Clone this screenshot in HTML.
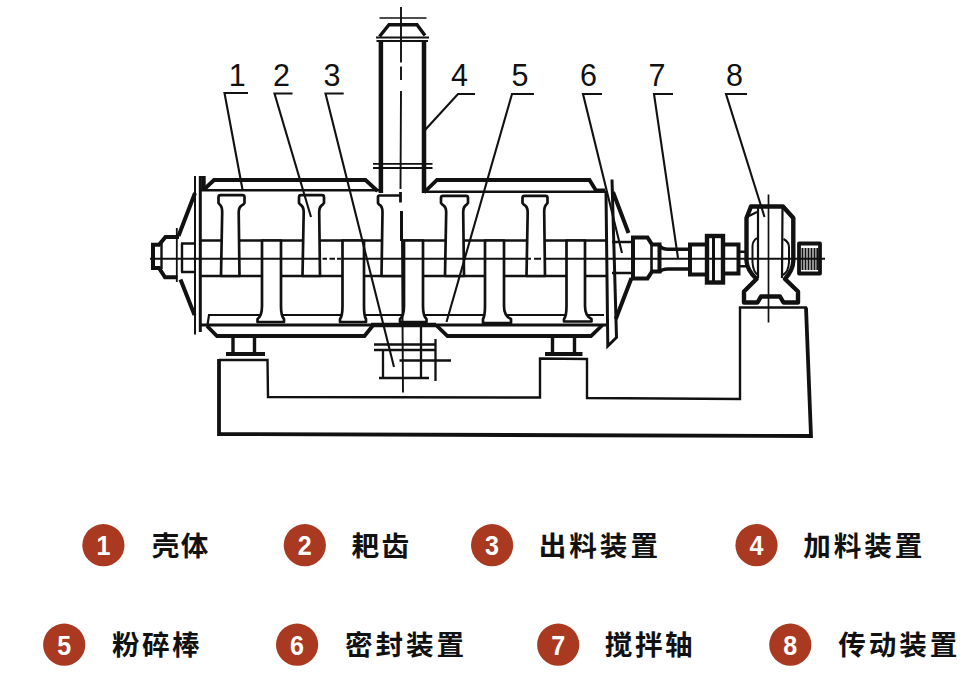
<!DOCTYPE html>
<html lang="zh">
<head>
<meta charset="utf-8">
<title>Rake dryer structure diagram</title>
<style>
html,body{margin:0;padding:0;background:#fff;}
body{width:976px;height:689px;overflow:hidden;font-family:"Liberation Sans",sans-serif;}
svg{display:block;position:absolute;left:0;top:0;}
.lt{font-family:"Liberation Sans","Noto Sans CJK SC",sans-serif;font-weight:700;font-size:27.6px;fill:#111;stroke:none;}
</style>
</head>
<body>
<svg width="976" height="689" viewBox="0 0 976 689">
<rect width="976" height="689" fill="#fff"/>
<!-- ===== foundation ===== -->
<g fill="none" stroke="#111" stroke-linejoin="miter">
  <polyline stroke-width="3.8" points="219,359 219,434 811,436 806,307.5"/>
  <polyline stroke-width="2.4" points="219,360 267.5,360 268,397 540,397.5 540,358.5 587,359 587,398 740,399 740,307.5 807,307.5"/>
</g>

<!-- ===== legs ===== -->
<g fill="none" stroke="#111" stroke-width="3.4">
  <path d="M233,337V353M254.5,337V353M552.5,337V353M574.5,337V353"/>
  <path stroke-width="4" d="M226,354H265M545,354H582.5"/>
</g>

<!-- ===== discharge device (3) ===== -->
<g fill="none" stroke="#111" stroke-width="2.3">
  <path d="M374,344.5H436M374,350H436M383,350V378M421,326V378M435.5,339V381M399.5,360.5H451M379,378H429"/>
</g>

<!-- ===== feed pipe (4) ===== -->
<g fill="none" stroke="#111">
  <path stroke-width="1.5" d="M379.5,18H426.5"/>
  <polyline stroke-width="3.4" points="379.500,36.500 389,24.800 417,24.800 425,35.500"/>
  <path stroke-width="1.8" d="M376,37.5H429M376.5,41H428M373,163.800H432.500M373,168H432.500"/>
  <path stroke-width="4.5" d="M380.900,41V193M424,41V193"/>
</g>

<!-- ===== shell ===== -->
<g fill="none" stroke="#111" stroke-linejoin="miter">
  <!-- left end plate -->
  <path stroke-width="2" d="M195,176V334.5"/>
  <path stroke-width="3" d="M200.3,176V332"/>
  <path stroke-width="4.4" d="M203.500,176V189"/>
  <!-- top jackets -->
  <polyline stroke-width="3.8" points="204,189.500 214,180 365.500,180 377.500,191"/>
  <path stroke-width="2.4" d="M200.500,190.300H380"/>
  <polyline stroke-width="3.8" points="424,192.500 437,180 589.500,180 596,190.500 605,190.500"/>
  <path stroke-width="2.4" d="M424,191.800H606"/>
  <!-- bottom -->
  <path stroke-width="2.2" d="M207.500,325L209,315H604"/>
  <path stroke-width="2.8" d="M200.500,325H606"/>
  <polyline stroke-width="3.8" points="207,326 217,336 364.500,336 372.500,326"/>
  <path stroke-width="4.6" d="M371,325H436"/>
  <polyline stroke-width="3.8" points="436,325 447.500,336 591,336 602.500,325"/>
  <!-- shaft -->
  <path stroke-width="2.5" d="M200.500,240.500H606M200.500,276H606"/>
  <!-- right end plate -->
  <polyline stroke-width="3" points="606,192 607.800,346 616.500,337.500 612,179.500"/>
  <!-- left cone -->
  <path stroke-width="4" d="M195,193L178.500,236M180.500,279.500L194.500,315"/>
  <!-- right cone -->
  <path stroke-width="4" d="M613,192L628.500,233M631.500,278L615.800,319"/>
  <path stroke-width="2.4" d="M612,242H633M612,273H633"/>
</g>

<!-- ===== rake teeth ===== -->
<g fill="#fff" stroke="#111" stroke-width="2.7" stroke-linejoin="round">
  <!-- upper teeth -->
  <path d="M221.0,276.0L222.2,212Q222.2,206.500 219.7,204.500L218.5,203V197.2Q218.5,195.2 220.5,195.2H242.5Q244.5,195.2 244.5,197.2V203L243.3,204.500Q238.7,206.500 238.7,212L239.5,276.0Z"/>
  <path d="M302.5,276.0L303.7,212Q303.7,206.500 300.2,204.500L299.0,203V197.2Q299.0,195.2 301.0,195.2H322.0Q324.0,195.2 324.0,197.2V203L322.8,204.500Q319.2,206.500 319.2,212L320.0,276.0Z"/>
  <path d="M401.500,276H381.500L382.500,212Q382.500,206 379,204.500L378,203V197Q378,195.500 379.500,195.500H400.500"/>
  <path d="M445.0,276.0L446.2,212Q446.2,206.500 442.2,204.500L441.0,203V197.8Q441.0,195.8 443.0,195.8H466.0Q468.0,195.8 468.0,197.8V203L466.8,204.500Q463.2,206.500 463.2,212L464.0,276.0Z"/>
  <path d="M526.5,276.0L527.7,212Q527.7,206.500 523.7,204.500L522.5,203V197.8Q522.5,195.8 524.5,195.8H545.5Q547.5,195.8 547.5,197.8V203L546.3,204.500Q544.2,206.500 544.2,212L545.0,276.0Z"/>
  <!-- lower teeth -->
  <path d="M262,240.500V306Q262,316 257.500,319V322H284V319Q281,316 281,306V240.500Z"/>
  <path d="M342.500,240.500V306Q342.500,316 340,319V322H366V319Q364,316 364,306V240.500Z"/>
  <path d="M404,240.500V306Q404,316 400,319V322H426.500V319Q423,316 423,306V240.500Z"/>
  <path d="M485,240.500V306Q485,316 483,319V323H511V319Q504,316 504,306V240.500Z"/>
  <path d="M566.500,240.500V306Q566.500,316 564,319V321.500H591.500V319Q585,316 585,306V240.500Z"/>
</g>
<path fill="none" stroke="#111" stroke-width="3" d="M401.500,211V241"/>

<!-- ===== left bearing ===== -->
<g fill="none" stroke="#111" stroke-linejoin="miter">
  <path stroke-width="1.8" d="M176.800,228V282"/>
  <polyline stroke-width="4" points="179,237 165.500,237 159,244.800 153,244.800 153,268 159,268 165,277.300 177.500,277.300"/>
  <path stroke-width="2.4" d="M161.500,243V269M181,243.500H195M181,272H195M182,243.500V272"/>
</g>

<!-- ===== stuffing box / shaft (7) / coupling ===== -->
<g fill="#fff" stroke="#111" stroke-width="4" stroke-linejoin="miter">
  <path d="M633,237.500H647.500L652,244.500H659.500V271.500H652L647.500,278.500H633Z"/>
  <path stroke-width="2.6" fill="none" d="M651.500,245V271"/>
  <path stroke-width="3.4" fill="none" d="M659.500,245.500Q662,249.300 668,249.300H690M659.500,272Q662,269 668,269H690"/>
  <rect x="690" y="244.500" width="17" height="30"/>
  <rect x="723" y="244.500" width="15.500" height="29"/>
  <rect x="707" y="236" width="16" height="46.500" stroke-width="4.400"/>
  <path stroke-width="3" fill="none" d="M713.500,236V282"/>
  <path stroke-width="2.6" fill="none" d="M738.500,251.800H747M738.500,266.200H747"/>
</g>

<!-- ===== gearbox (8) ===== -->
<g fill="none" stroke="#111" stroke-linejoin="round">
  <path stroke-width="4.4" d="M751,206.500H783L793.300,218V261Q793,270 785,279L798,291.500V302.500H783.500L780,296.500H761L757.500,302.500H744V291.500L756.500,279Q747,270 746.500,261V218Z"/>
  <path stroke-width="2.2" d="M758,208V278M782.500,208L782,278"/>
  <path stroke-width="2" d="M749,216L757,212M757,238Q752.500,241 752.500,246V262Q753,272 758,275M783.500,239Q789,242 789,247V262Q788.500,272 783,275"/>
  <path stroke-width="1.7" d="M768.500,194.500V322.500"/>
  <rect x="799" y="243.500" width="21" height="30" stroke-width="3.800"/>
  <path stroke-width="1.900" d="M802.500,248V270M805.500,248V270M808.500,248V270M811.500,248V270M814.500,248V270M817.300,248V270"/>
</g>

<!-- ===== centre lines ===== -->
<g fill="none" stroke="#111" stroke-width="2">
  <path d="M150,258.800H320M322.500,258.800h4.500M329.500,258.800h5.500M337,258.800h4M343,258.800H531M534,258.800h7M544.500,258.800H825"/>
  <path stroke-width="1.900" d="M401,7L401,62.500M401,66.500V80M401,91L400.500,189M402,241L403,392.500"/><path stroke-width="2.800" d="M400.500,192V202.500"/>
</g>

<!-- ===== leaders & callout numbers ===== -->
<g fill="none" stroke="#111" stroke-width="2.100" stroke-linecap="butt" stroke-linejoin="miter">
  <polyline points="248,93 224.500,93 242.500,189.500"/>
  <polyline points="292.500,93.500 274.500,93.500 311,217"/>
  <polyline points="343.700,93.500 325.500,93.500 394,367"/>
  <polyline points="475,94 458,94 425,130"/>
  <polyline points="534,94 512,94 446.500,322"/>
  <polyline points="602,94 583,94 622,253"/>
  <polyline points="673,94 654,94 678,258"/>
  <polyline points="747,94 726,94 764.500,217"/>
</g>
<g font-family="'Liberation Sans', sans-serif" font-size="30.5" fill="#111" text-anchor="middle">
  <text x="237.3" y="86">1</text>
  <text x="281.500" y="86">2</text>
  <text x="332" y="86">3</text>
  <text x="459.500" y="86">4</text>
  <text x="520" y="86">5</text>
  <text x="588.500" y="86">6</text>
  <text x="657" y="86">7</text>
  <text x="734.500" y="86">8</text>
</g>

<g fill="#111" stroke="#111" stroke-width="20" stroke-linejoin="round">
<circle cx="103.4" cy="545.2" r="21.1" fill="#A93A21" stroke="none"/>
<text x="103.4" y="555.4" font-family="'Liberation Sans', sans-serif" font-weight="700" font-size="28.5" fill="#fff" stroke="none" text-anchor="middle" transform="translate(103.4 0) scale(0.88 1) translate(-103.4 0)">1</text>
<text class="lt" x="151.85 180.75" y="556.30">壳体</text>
<circle cx="304.8" cy="545.2" r="21.1" fill="#A93A21" stroke="none"/>
<text x="304.8" y="555.4" font-family="'Liberation Sans', sans-serif" font-weight="700" font-size="28.5" fill="#fff" stroke="none" text-anchor="middle" transform="translate(304.8 0) scale(0.88 1) translate(-304.8 0)">2</text>
<text class="lt" x="351.45 381.55" y="556.30">耙齿</text>
<circle cx="492.1" cy="545.2" r="21.1" fill="#A93A21" stroke="none"/>
<text x="492.1" y="555.4" font-family="'Liberation Sans', sans-serif" font-weight="700" font-size="28.5" fill="#fff" stroke="none" text-anchor="middle" transform="translate(492.1 0) scale(0.88 1) translate(-492.1 0)">3</text>
<text class="lt" x="538.65 569.25 599.85 630.45" y="556.30">出料装置</text>
<circle cx="756.5" cy="545.2" r="21.1" fill="#A93A21" stroke="none"/>
<text x="756.5" y="555.4" font-family="'Liberation Sans', sans-serif" font-weight="700" font-size="28.5" fill="#fff" stroke="none" text-anchor="middle" transform="translate(756.5 0) scale(0.88 1) translate(-756.5 0)">4</text>
<text class="lt" x="803.35 833.85 864.35 894.85" y="556.30">加料装置</text>
<circle cx="64.2" cy="644.7" r="21.1" fill="#A93A21" stroke="none"/>
<text x="64.2" y="654.9" font-family="'Liberation Sans', sans-serif" font-weight="700" font-size="28.5" fill="#fff" stroke="none" text-anchor="middle" transform="translate(64.2 0) scale(0.88 1) translate(-64.2 0)">5</text>
<text class="lt" x="111.92 142.02 172.12" y="654.90">粉碎棒</text>
<circle cx="297.1" cy="644.7" r="21.1" fill="#A93A21" stroke="none"/>
<text x="297.1" y="654.9" font-family="'Liberation Sans', sans-serif" font-weight="700" font-size="28.5" fill="#fff" stroke="none" text-anchor="middle" transform="translate(297.1 0) scale(0.88 1) translate(-297.1 0)">6</text>
<text class="lt" x="345.03 375.53 406.03 436.53" y="654.90">密封装置</text>
<circle cx="558.2" cy="644.7" r="21.1" fill="#A93A21" stroke="none"/>
<text x="558.2" y="654.9" font-family="'Liberation Sans', sans-serif" font-weight="700" font-size="28.5" fill="#fff" stroke="none" text-anchor="middle" transform="translate(558.2 0) scale(0.88 1) translate(-558.2 0)">7</text>
<text class="lt" x="604.83 634.93 665.03" y="654.90">搅拌轴</text>
<circle cx="790.3" cy="644.7" r="21.1" fill="#A93A21" stroke="none"/>
<text x="790.3" y="654.9" font-family="'Liberation Sans', sans-serif" font-weight="700" font-size="28.5" fill="#fff" stroke="none" text-anchor="middle" transform="translate(790.3 0) scale(0.88 1) translate(-790.3 0)">8</text>
<text class="lt" x="838.37 868.87 899.37 929.87" y="654.90">传动装置</text>
</g>
</svg>
</body>
</html>
